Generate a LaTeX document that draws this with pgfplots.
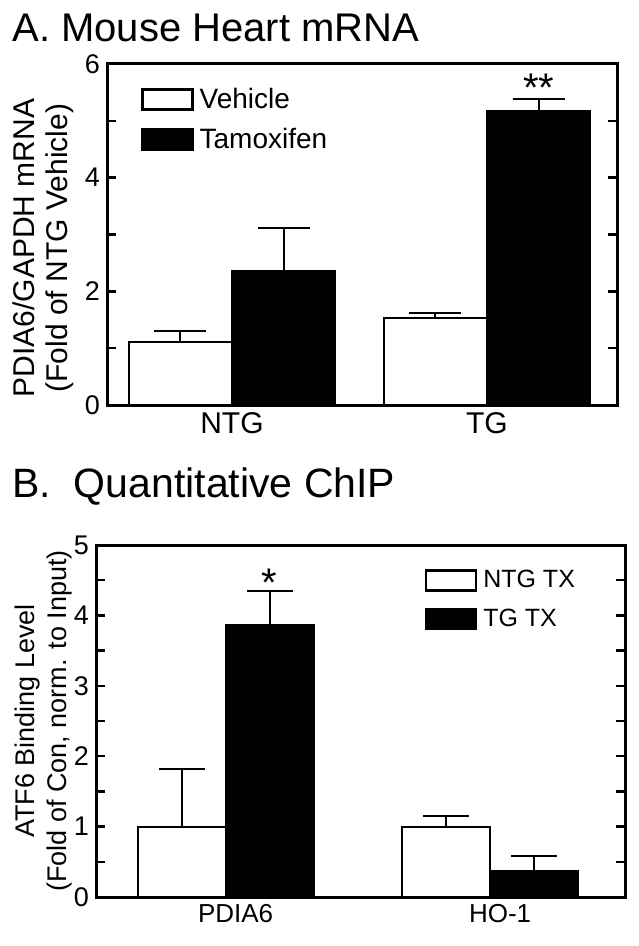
\documentclass[border=0pt]{standalone}
\usepackage{fontspec}
\setmainfont{Liberation Sans}
\usepackage{pgfplots}
\pgfplotsset{compat=1.18}
\usepackage{pgfplotstable}

\pgfplotstableread{
x y err
0 1.11 0.19
1 1.53 0.08
}\vehicle
\pgfplotstableread{
x y err
0 2.36 0.76
1 5.18 0.21
}\tamoxifen
\pgfplotstableread{
x y err
0 1.00 0.82
1 1.00 0.15
}\ntgtx
\pgfplotstableread{
x y err
0 3.86 0.48
1 0.37 0.21
}\tgtx

\pgfplotsset{
  common/.style={
    scale only axis,
    ybar=0pt,
    axis line style={line width=1.5pt},
    /pgf/number format/assume math mode=true,
    ytick pos=both,
    yticklabel pos=left,
    tick align=inside,
    major tick length=4.5pt,
    minor tick length=4.5pt,
    ytick style={line width=1.2pt, black},
    minor tick style={line width=1.2pt, black},
    xtick style={draw=none},
    ymin=0,
    xtick={0,1},
    legend cell align=left,
    legend image code/.code={\draw[#1, line width=1.2pt] (0pt,-5pt) rectangle (25pt,5pt);
      \path (26pt,0pt);},
  },
  barstyle/.style={draw=black, line width=1pt,
    error bars/y dir=plus, error bars/y explicit,
    error bars/error bar style={line width=1pt, black},
    error bars/error mark options={rotate=90, line width=1pt, mark size=#1}},
}

\begin{document}
\begin{tikzpicture}
\useasboundingbox (0,0) rectangle (319pt,-473pt);
\node[anchor=base west, font=\fontsize{20}{24}\selectfont, inner sep=0pt] at (6pt,-21pt) {A. Mouse Heart mRNA};
\node[anchor=base west, font=\fontsize{20.5}{24}\selectfont, inner sep=0pt] at (6pt,-248.5pt) {B.\ \ Quantitative ChIP};

\begin{axis}[common, bar width=0.405,
  at={(53.5pt,-202.5pt)}, anchor=south west,
  width=255pt, height=170.5pt,
  xmin=-0.49, xmax=1.51, ymax=6,
  ytick={0,2,4,6}, minor ytick={1,3,5},
  xticklabels={NTG,TG},
  xticklabel style={font=\fontsize{15}{18}\selectfont},
  yticklabel style={font=\fontsize{13.5}{16}\selectfont},
  ylabel={PDIA6/GAPDH mRNA\\(Fold of NTG Vehicle)},
  every axis y label/.style={at={(axis description cs:-0.125,0.46)}, rotate=90, anchor=center,
    font=\fontsize{15}{16.5}\selectfont, align=center},
  legend style={at={(0.055,0.955)}, anchor=north west, draw=none, fill=none,
    font=\fontsize{14}{16}\selectfont, row sep=4.5pt},
]
\addplot[barstyle=13pt, fill=white]
  table[x=x, y=y, y error=err] {\vehicle};
\addlegendentry{Vehicle}
\addplot[barstyle=13pt, fill=black]
  table[x=x, y=y, y error=err] {\tamoxifen};
\addlegendentry{Tamoxifen}
\node[font=\fontsize{20}{20}\selectfont] at (axis cs:1.2025,5.58) {**};
\end{axis}

\begin{axis}[common, bar width=0.333,
  at={(48pt,-448.5pt)}, anchor=south west,
  width=264.5pt, height=176pt,
  xmin=-0.49, xmax=1.51, ymax=5,
  ytick={0,1,2,3,4,5}, minor ytick={0.5,1.5,2.5,3.5,4.5},
  xticklabels={PDIA6,HO-1},
  xticklabel style={font=\fontsize{13}{16}\selectfont, xshift=5pt},
  yticklabel style={font=\fontsize{13.5}{16}\selectfont},
  ylabel={ATF6 Binding Level\\(Fold of Con, norm. to Input)},
  every axis y label/.style={at={(axis description cs:-0.1,0.5)}, rotate=90, anchor=center,
    font=\fontsize{13.5}{16}\selectfont, align=center},
  legend style={at={(0.61,0.952)}, anchor=north west, draw=none, fill=none,
    font=\fontsize{12.5}{15}\selectfont, row sep=5pt},
]
\addplot[barstyle=11.5pt, fill=white]
  table[x=x, y=y, y error=err] {\ntgtx};
\addlegendentry{NTG TX}
\addplot[barstyle=11.5pt, fill=black]
  table[x=x, y=y, y error=err] {\tgtx};
\addlegendentry{TG TX}
\node[font=\fontsize{20}{20}\selectfont] at (axis cs:0.1665,4.47) {*};
\end{axis}
\end{tikzpicture}
\end{document}
